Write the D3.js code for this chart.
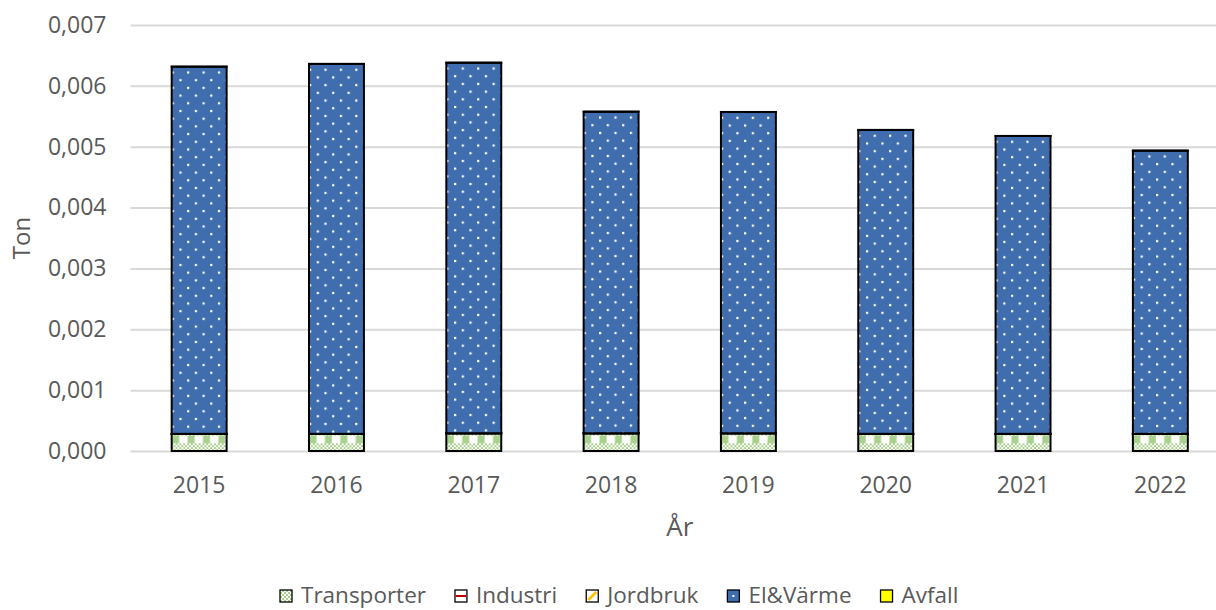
<!DOCTYPE html>
<html>
<head>
<meta charset="utf-8">
<script src="https://cdn.jsdelivr.net/npm/d3@7"></script>
<style>
  body { margin: 0; background: #fff; }
  text { font-family: "Open Sans", sans-serif; fill: #595959; }
</style>
</head>
<body>
<div id="chart"></div>
<script>
// data
var years = ["2015", "2016", "2017", "2018", "2019", "2020", "2021", "2022"];
var transporter = [0.00028, 0.00028, 0.00029, 0.00029, 0.00029, 0.00028, 0.00028, 0.00028];
var industri = [0.000001, 0.000001, 0.000001, 0.000001, 0.000001, 0.000001, 0.000001, 0.000001];
var jordbruk = [0.000001, 0.000001, 0.000001, 0.000001, 0.000001, 0.000001, 0.000001, 0.000001];
var elVarme = [0.006033, 0.006078, 0.006088, 0.005283, 0.005278, 0.004993, 0.004894, 0.004653];
var avfall = [0.000001, 0.000001, 0.000001, 0.000001, 0.000001, 0.000001, 0.000001, 0.000001];
var sectors = ["Transporter", "Industri", "Jordbruk", "El&Värme", "Avfall"];
var yTicks = [0, 0.001, 0.002, 0.003, 0.004, 0.005, 0.006, 0.007];

function init() {
  var width = 1216, height = 610;
  var margin = { top: 25, left: 130.5, right: -13, bottom: 159 };

  var svg = d3.select("#chart").append("svg")
    .attr("width", width)
    .attr("height", height);

  var rows = years.map(function(y, i) {
    return { year: y, "Transporter": transporter[i], "Industri": industri[i],
             "Jordbruk": jordbruk[i], "El&Värme": elVarme[i], "Avfall": avfall[i] };
  });

  var x = d3.scaleBand().domain(years)
    .range([margin.left, width - margin.right])
    .paddingInner(0.6).paddingOuter(0.3);
  var y = d3.scaleLinear().domain([0, 0.007]).range([height - margin.bottom, margin.top]);

  var fmt = d3.formatLocale({ decimal: ",", thousands: " ", grouping: [3], currency: ["", " kr"] }).format(".3f");

  // patterns
  var defs = svg.append("defs");
  var step = 15.4;
  var green = "#A9D18E";

  var pt = defs.append("pattern").attr("id", "pTrans")
    .attr("patternUnits", "userSpaceOnUse")
    .attr("width", step).attr("height", step);
  pt.append("rect").attr("width", step).attr("height", step).attr("fill", "#fff");
  pt.append("rect").attr("x", 0.5).attr("y", 0).attr("width", 7).attr("height", step / 2).attr("fill", green);
  for (var cx = 0; cx < 8; cx++) {
    for (var cy = 0; cy < 4; cy++) {
      if ((cx + cy) % 2 === 0) {
        pt.append("rect").attr("x", cx * step / 8).attr("y", step / 2 + cy * step / 8)
          .attr("width", step / 8).attr("height", step / 8).attr("fill", green);
      }
    }
  }

  var pd = defs.append("pattern").attr("id", "pDots")
    .attr("patternUnits", "userSpaceOnUse")
    .attr("width", step).attr("height", step);
  pd.append("rect").attr("width", step).attr("height", step).attr("fill", "#3F6DAD");
  pd.append("rect").attr("x", 0).attr("y", 4.7).attr("width", 2.2).attr("height", 2.2).attr("fill", "#fff");
  pd.append("rect").attr("x", 7.7).attr("y", 12.4).attr("width", 2.2).attr("height", 2.2).attr("fill", "#fff");

  var pl = defs.append("pattern").attr("id", "pLegTrans")
    .attr("patternUnits", "userSpaceOnUse").attr("width", 4).attr("height", 4);
  pl.append("rect").attr("width", 4).attr("height", 4).attr("fill", "#fff");
  pl.append("rect").attr("width", 2).attr("height", 2).attr("fill", green);
  pl.append("rect").attr("x", 2).attr("y", 2).attr("width", 2).attr("height", 2).attr("fill", green);

  // gridlines + y axis
  var yAxis = d3.axisLeft(y).tickValues(yTicks).tickFormat(fmt)
    .tickSize(-(width - margin.right - margin.left)).tickPadding(24);
  var gy = svg.append("g").attr("transform", "translate(" + margin.left + ",0)").call(yAxis);
  gy.select(".domain").remove();
  gy.selectAll(".tick line").attr("stroke", "#D9D9D9").attr("stroke-width", 2);
  gy.selectAll(".tick text").style("font-size", "23px").attr("fill", "#595959");

  // x axis labels
  var xAxis = d3.axisBottom(x).tickSize(0).tickPadding(26);
  var gx = svg.append("g").attr("transform", "translate(0," + y(0) + ")").call(xAxis);
  gx.select(".domain").remove();
  gx.selectAll(".tick text").style("font-size", "23px").attr("fill", "#595959");

  // stacked bars
  var stack = d3.stack().keys(sectors);
  var layers = stack(rows);
  var fills = { "Transporter": "url(#pTrans)", "Industri": "#fff", "Jordbruk": "#fff",
                "El&Värme": "url(#pDots)", "Avfall": "#FFFF00" };

  layers.forEach(function(layer) {
    var g = svg.append("g").attr("class", "layer");
    var bars = g.selectAll("g").data(layer).enter().append("g")
      .attr("transform", function(d) {
        var ty = layer.key === "Transporter" ? y(0) : y(d[1]);
        return "translate(" + x(d.data.year) + "," + ty + ")";
      });
    bars.append("rect")
      .attr("x", 0)
      .attr("y", function(d) { return layer.key === "Transporter" ? y(d[1]) - y(0) : 0; })
      .attr("width", x.bandwidth())
      .attr("height", function(d) { return Math.max(0.01, y(d[0]) - y(d[1])); })
      .attr("fill", fills[layer.key])
      .attr("stroke", "#000")
      .attr("stroke-width", 2);
  });

  // axis titles
  svg.append("text").attr("transform", "translate(30," + ((y(0) + y(0.007)) / 2) + ") rotate(-90)")
    .attr("text-anchor", "middle").style("font-size", "24px").text("Ton");
  svg.append("text").attr("x", (margin.left + width - margin.right) / 2).attr("y", 536)
    .attr("text-anchor", "middle").style("font-size", "26px").text("År");

  // legend
  var leg = svg.append("g");
  var lx = 280;
  sectors.forEach(function(s) {
    var item = leg.append("g").attr("transform", "translate(" + lx + ",0)");
    item.append("rect").attr("x", 0).attr("y", 590).attr("width", 12).attr("height", 12)
      .attr("fill", s === "Transporter" ? "url(#pLegTrans)" : s === "El&Värme" ? "#3F6DAD" : s === "Avfall" ? "#FFFF00" : "#fff")
      .attr("stroke", "#000").attr("stroke-width", 1.3);
    if (s === "Industri") {
      item.append("line").attr("x1", 0.7).attr("x2", 11.3).attr("y1", 596).attr("y2", 596)
        .attr("stroke", "#C00000").attr("stroke-width", 2);
    }
    if (s === "Jordbruk") {
      item.append("line").attr("x1", 2).attr("x2", 10).attr("y1", 600).attr("y2", 592)
        .attr("stroke", "#FFC000").attr("stroke-width", 2.5);
    }
    if (s === "El&Värme") {
      item.append("rect").attr("x", 5).attr("y", 595).attr("width", 2).attr("height", 2).attr("fill", "#fff");
    }
    var t = item.append("text").attr("x", 21).attr("y", 603).style("font-size", "22.5px").text(s);
    lx += 21 + t.node().getComputedTextLength() + 29;
  });
}

window.onload = init;
</script>
</body>
</html>
